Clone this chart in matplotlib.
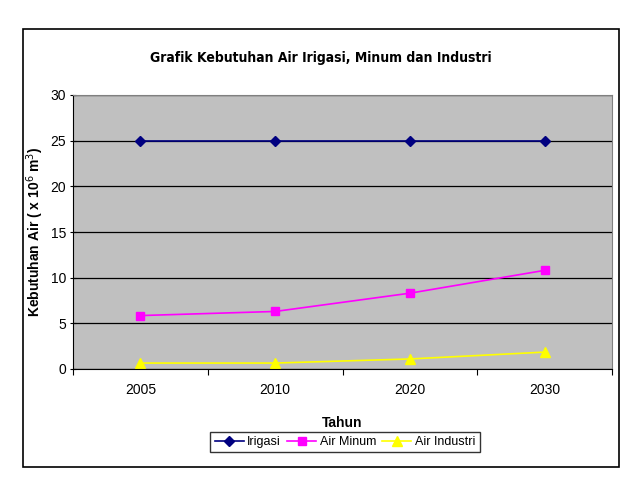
import numpy as np
import matplotlib
matplotlib.use("Agg")
import matplotlib.pyplot as plt
from matplotlib.patches import Rectangle

years = ["2005", "2010", "2020", "2030"]
irigasi = [25, 25, 25, 25]
air_minum = [5.85, 6.3, 8.3, 10.8]
air_industri = [0.65, 0.65, 1.1, 1.85]

plt.rcParams['font.family'] = ['Liberation Sans', 'DejaVu Sans']

fig = plt.figure(figsize=(6.42, 4.83), dpi=100)
ax = fig.add_axes([73 / 642, 1 - 369 / 483, (612 - 73) / 642, (369 - 95) / 483])

# outer chart frame
fig.patches.append(Rectangle((23 / 642, 1 - 467 / 483), (619 - 23) / 642, (467 - 29) / 483,
                             transform=fig.transFigure, fill=False, edgecolor='black', linewidth=1.2))

x = np.arange(len(years))
ax.set_facecolor('#C0C0C0')
ax.plot(x, irigasi, color='#000080', marker='D', markersize=5, linewidth=1.2, label='Irigasi')
ax.plot(x, air_minum, color='#FF00FF', marker='s', markersize=6, linewidth=1.2, label='Air Minum')
ax.plot(x, air_industri, color='#FFFF00', marker='^', markersize=7, linewidth=1.2, label='Air Industri')

ax.set_xlim(-0.5, 3.5)
ax.set_ylim(0, 30)
ax.set_yticks(np.arange(0, 31, 5))
ax.yaxis.grid(True, color='black', linewidth=0.9)
ax.set_axisbelow(True)

ax.set_xticks(np.arange(-0.5, 4, 1))
ax.set_xticklabels([])
ax.set_xticks(x, minor=True)
ax.set_xticklabels(years, minor=True)
ax.tick_params(axis='x', which='minor', length=0, labelsize=10, pad=10)
ax.tick_params(axis='x', which='major', length=4, direction='out')
ax.tick_params(axis='y', length=4, direction='inout', labelsize=10, pad=3)

for s in ['top', 'right']:
    ax.spines[s].set_color('#808080')
for s in ['left', 'bottom']:
    ax.spines[s].set_color('black')

ax.set_ylabel('Kebutuhan Air ( x 10$^6$ m$^3$)', fontsize=10, fontweight='bold')
ax.yaxis.set_label_coords(-0.05, 0.5)
ax.set_xlabel('Tahun', fontsize=10, fontweight='bold')
ax.xaxis.set_label_coords(0.5, -0.17)

fig.text(0.5, 1 - 58 / 483, 'Grafik Kebutuhan Air Irigasi, Minum dan Industri',
         ha='center', va='center', fontsize=10, fontweight='bold',
         family=['DejaVu Sans'], fontstretch='condensed')

leg = fig.legend(loc='center', bbox_to_anchor=(345 / 642, 1 - 442 / 483), ncol=3, fontsize=9,
                 frameon=True, fancybox=False, edgecolor='black', handlelength=2.3,
                 handletextpad=0.3, columnspacing=0.5, borderpad=0.35, borderaxespad=0)
leg.get_frame().set_linewidth(1.0)

fig.savefig('out.png', dpi=100)
